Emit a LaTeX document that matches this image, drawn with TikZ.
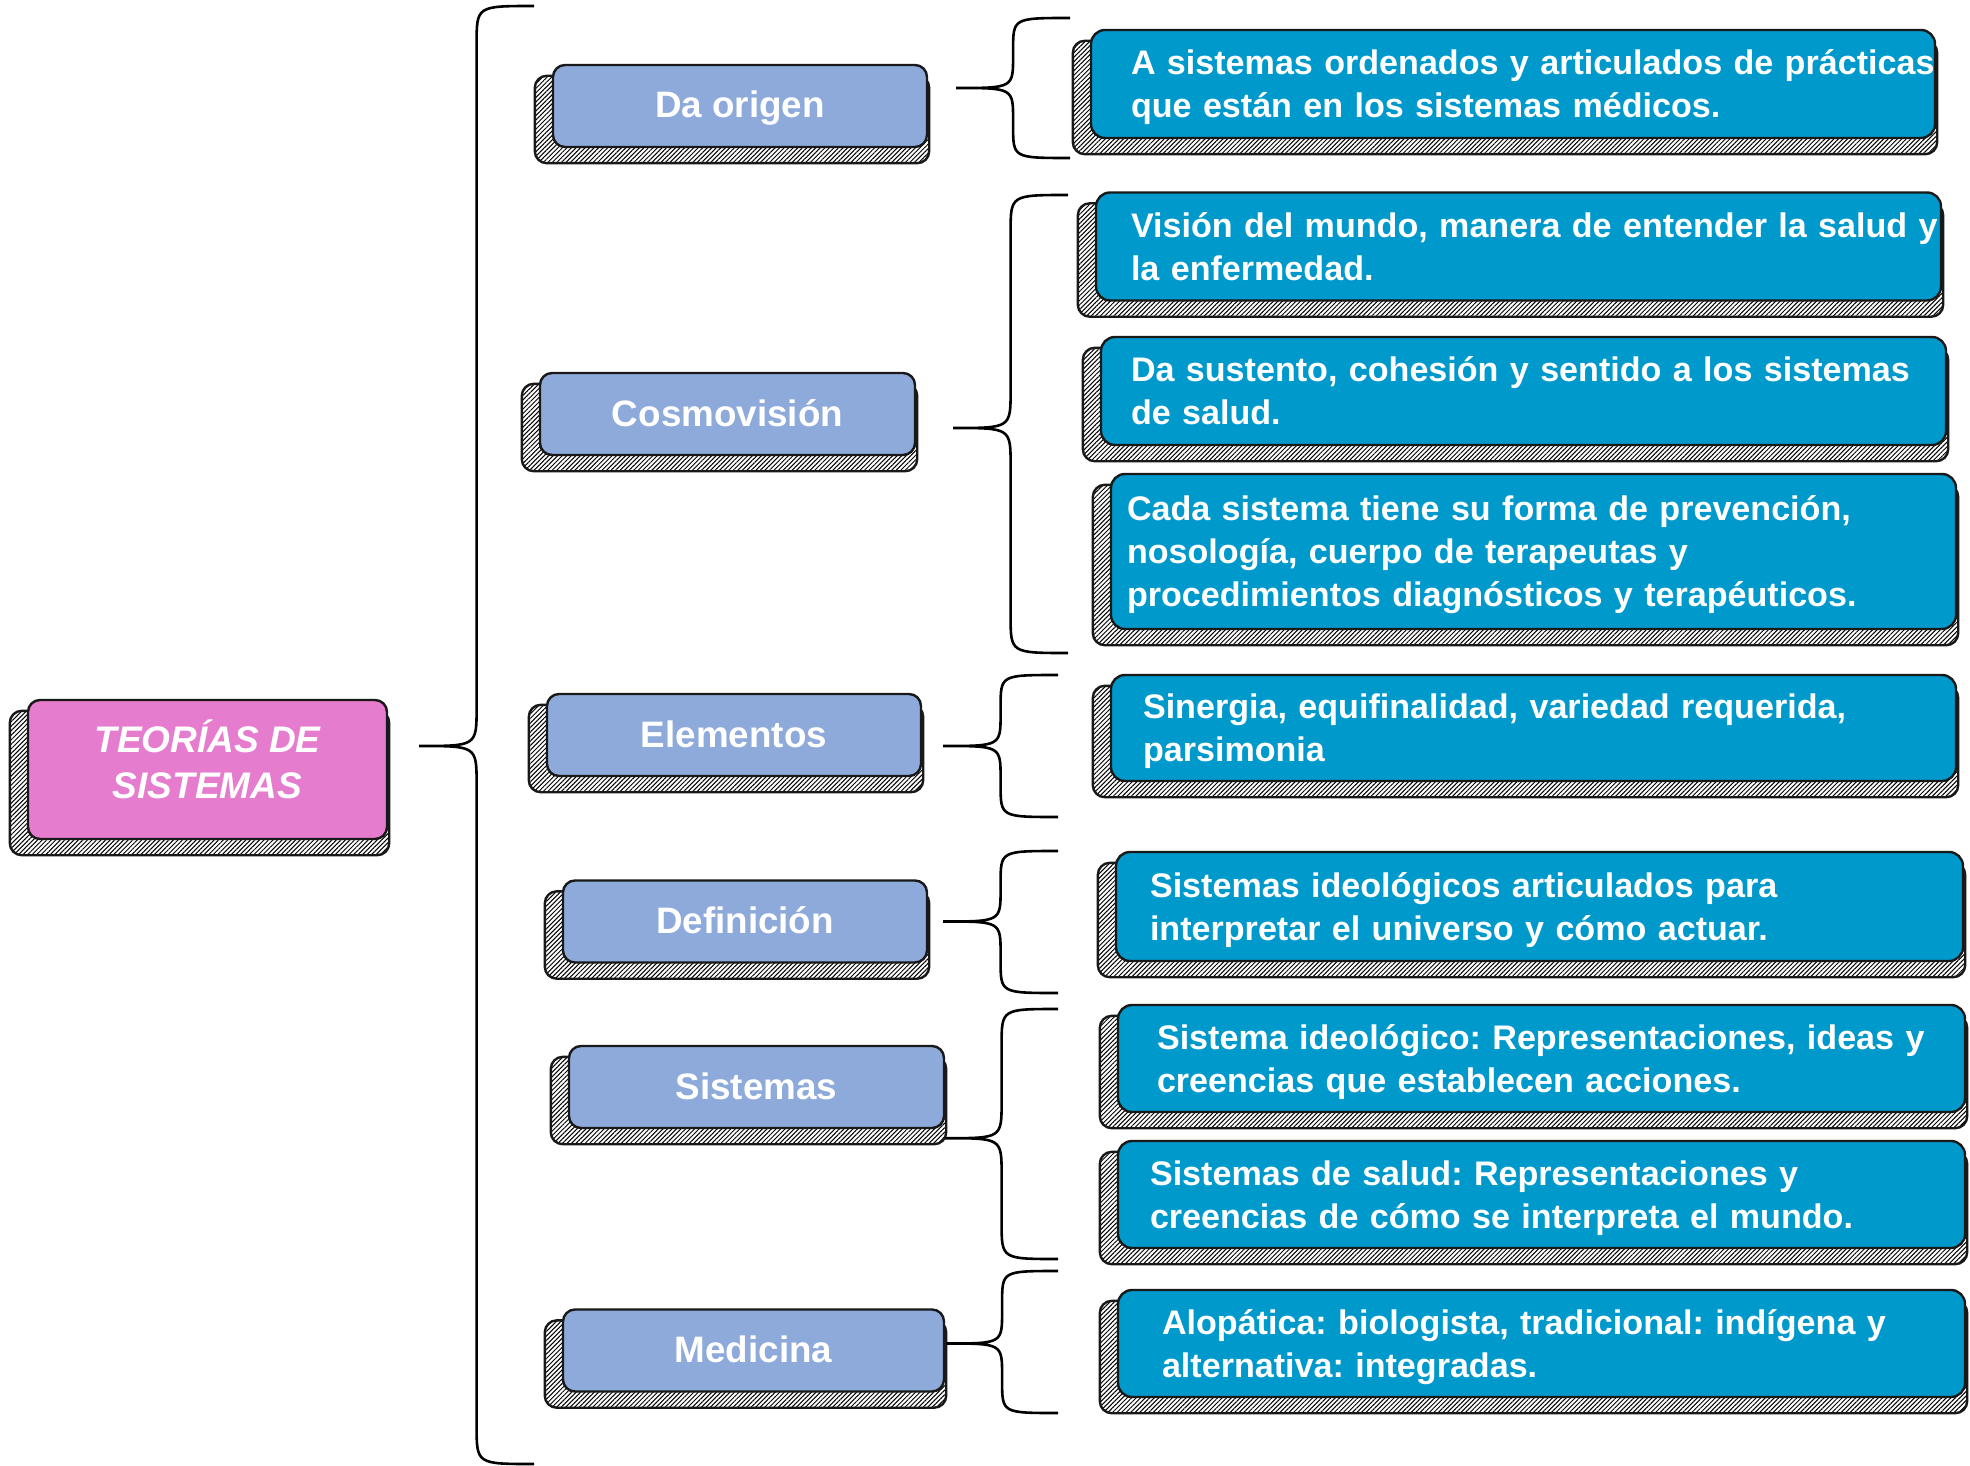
\documentclass[tikz,border=0pt]{standalone}
\usepackage{fontspec}
\setmainfont{Liberation Sans}
\usetikzlibrary{calc,backgrounds,patterns.meta}
\definecolor{rosa}{HTML}{E67CCE}
\definecolor{lila}{HTML}{8EAADB}
\definecolor{turquesa}{HTML}{0099CC}
\frenchspacing
\hfuzz=60pt
\newcommand{\sombra}[1]{%
  \draw[sombreado] ([xshift=-8.5pt,yshift=-6pt]#1.north west) rectangle ([xshift=0.5pt,yshift=-7.5pt]#1.south east);}
\newcommand{\llave}[4]{%
  \draw[llave] let \p1=(#1), \p2=(#2), \p3=(#3), \p4=($(#1)!.5!(#2)$) in
    (\p2) .. controls (\x4,\y2) .. (\x4,\y2-#4)
    -- (\x4,\y1+#4) .. controls (\x4,\y1) .. (\p1)
    .. controls (\x4,\y1) .. (\x4,\y1-#4)
    -- (\x4,\y3+#4) .. controls (\x4,\y3) .. (\p3);}
\newcommand{\renglones}[1]{\raisebox{-1.8pt}[\height][\depth]{\begin{tabular}{@{}l@{}}#1\end{tabular}}}
\begin{document}
\begin{tikzpicture}[x=0.5pt,y=-0.5pt]
\tikzset{caja/.style={draw=black!90,line width=1.2pt,rounded corners=6pt,text=white}}
\tikzset{raiz/.style={caja,fill=rosa,align=center,font=\bfseries\itshape\fontsize{18.5}{23}\selectfont,minimum width=179.5pt,minimum height=69.5pt,text depth=10pt}}
\tikzset{rama/.style={caja,fill=lila,font=\bfseries\fontsize{18.4}{22}\selectfont,minimum height=41pt,minimum width=#1,text height=12.5pt,text depth=0.5pt}}
\tikzset{hoja/.style 2 args={caja,fill=turquesa,rounded corners=7pt,align=left,font=\bfseries\fontsize{17.05}{21.5}\selectfont,minimum height=54pt,inner xsep=#1,text width=#2}}
\tikzset{sombreado/.style={draw=black!90,line width=1.2pt,rounded corners=6pt,pattern={Lines[angle=45,distance=1.6pt,line width=0.5pt]}}}
\tikzset{llave/.style={draw=black,line width=1.3pt}}
\useasboundingbox (0,0) rectangle (1970,1466);

\node[raiz] (raiz) at (207.5,769.5) {TEORÍAS DE\\SISTEMAS};

\node[rama=187pt] (origen) at (740,106) {Da origen};
\node[rama=187.5pt] (cosmo) at (727.5,414) {Cosmovisión};
\node[rama=187pt] (elem) at (734,735) {Elementos};
\node[rama=182pt] (defi) at (745,921.5) {Definición};
\node[rama=187.5pt] (siste) at (756.5,1087) {Sistemas};
\node[rama=190.5pt] (medi) at (753.5,1350.5) {Medicina};

\node[hoja={20pt}{382pt}] (h1) at (1513,84) {\renglones{A sistemas ordenados y articulados de prácticas\\que están en los sistemas médicos.}};
\node[hoja={17.5pt}{387.5pt}] (h2) at (1518.5,246.5) {\renglones{Visión del mundo, manera de entender la salud y\\la enfermedad.}};
\node[hoja={15pt}{392.5pt}] (h3) at (1523.5,391) {\renglones{Da sustento, cohesión y sentido a los sistemas\\de salud.}};
\node[hoja={8pt}{406.5pt},minimum height=77.5pt] (h4) at (1533.5,551.5) {\renglones{Cada sistema tiene su forma de prevención,\\nosología, cuerpo de terapeutas y\\procedimientos diagnósticos y terapéuticos.}};
\node[hoja={16pt}{390.5pt},minimum height=53pt] (h5) at (1533.5,728) {\renglones{Sinergia, equifinalidad, variedad requerida,\\parsimonia}};
\node[hoja={17pt}{389.5pt},minimum height=54.5pt] (h6) at (1539.5,906.5) {\renglones{Sistemas ideológicos articulados para\\interpretar el universo y cómo actuar.}};
\node[hoja={19.5pt}{384.5pt},minimum height=53.5pt] (h7) at (1541.5,1058.5) {\renglones{Sistema ideológico: Representaciones, ideas y\\creencias que establecen acciones.}};
\node[hoja={16pt}{391.5pt},minimum height=53.5pt] (h8) at (1541.5,1194.5) {\renglones{Sistemas de salud: Representaciones y\\creencias de cómo se interpreta el mundo.}};
\node[hoja={22pt}{379.5pt},minimum height=53.5pt] (h9) at (1541.5,1343.5) {\renglones{Alopática: biologista, tradicional: indígena y\\alternativa: integradas.}};

\begin{scope}[on background layer]
\foreach \n in {raiz,origen,cosmo,elem,defi,siste,medi,h1,h2,h3,h4,h5,h6,h7,h8,h9}
  {\sombra{\n}}
\end{scope}

\coordinate (p0) at ([xshift=15.5pt,yshift=11.75pt]raiz.east);
\coordinate (s0) at (534,6);
\coordinate (i0) at (534,1464);
\coordinate (p1) at ([xshift=14pt,yshift=9pt]origen.east);
\coordinate (s1) at (1070,18);
\coordinate (i1) at (1070,158);
\coordinate (p2) at ([xshift=18.5pt,yshift=-7pt]cosmo.east);
\coordinate (s2) at (1068,195);
\coordinate (i2) at (1068,653);
\coordinate (p3) at ([xshift=10.5pt,yshift=-5.5pt]elem.east);
\coordinate (s3) at (1058,675);
\coordinate (i3) at (1058,817);
\coordinate (p4) at ([xshift=7.5pt]defi.east);
\coordinate (s4) at (1058,851);
\coordinate (i4) at (1058,993);
\coordinate (p5) at ([yshift=-4.5pt]siste.south east);
\coordinate (s5) at (1058,1009);
\coordinate (i5) at (1058,1259);
\coordinate (p6) at ([xshift=0.5pt,yshift=3.5pt]medi.east);
\coordinate (s6) at (1058,1271);
\coordinate (i6) at (1058,1413);

\llave{p0}{s0}{i0}{19pt}
\llave{p1}{s1}{i1}{16pt}
\llave{p2}{s2}{i2}{18.5pt}
\llave{p3}{s3}{i3}{16pt}
\llave{p4}{s4}{i4}{16pt}
\llave{p5}{s5}{i5}{18pt}
\llave{p6}{s6}{i6}{16pt}
\end{tikzpicture}
\end{document}
